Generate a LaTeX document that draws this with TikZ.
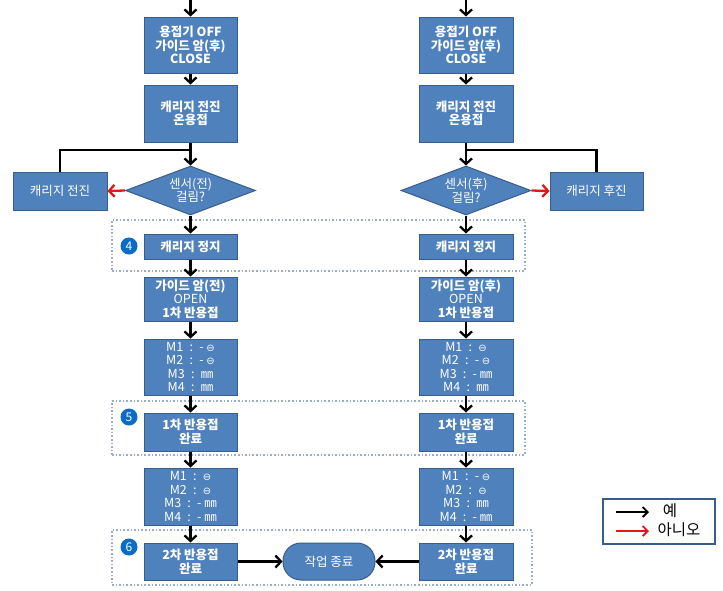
\documentclass[tikz,border=0pt]{standalone}
\usepackage{fontspec}
\setmainfont{Noto Sans CJK KR}
\newfontfamily\dejavu{DejaVu Sans}
\usetikzlibrary{arrows.meta,shapes.geometric}
\definecolor{boxblue}{HTML}{4F81BD}
\definecolor{boxedge}{HTML}{385D8A}
\definecolor{numblue}{HTML}{0A6CC4}
\definecolor{dotgray}{HTML}{9AAECB}
\definecolor{noRed}{HTML}{E01818}
\newcommand{\thz}{{\dejavu\fontsize{10}{10}\selectfont ⊖}}
\newcommand{\cl}{\enspace:\enspace}
\begin{document}
\begin{tikzpicture}[x=1pt,y=-1pt,
  box/.style={draw=boxedge, fill=boxblue, line width=1pt, text=white, align=center,
    inner sep=1pt, font=\bfseries\fontsize{12.5}{13.6}\selectfont},
  plainbox/.style={box, font=\fontsize{12.5}{13.6}\selectfont},
  mbox/.style={box, font=\fontsize{12.5}{13.4}\selectfont},
  dia/.style={diamond, draw=boxedge, fill=boxblue, line width=1pt, text=white, align=center,
    inner sep=0pt, aspect=2.65, minimum width=130pt, minimum height=49pt,
    font=\fontsize{12.5}{13.5}\selectfont},
  term/.style={rounded corners=18pt, draw=boxedge, fill=boxblue, line width=1pt, text=white,
    minimum width=92pt, minimum height=37pt, font=\fontsize{12.5}{13}\selectfont},
  grp/.style={draw=dotgray, dotted, line width=1.6pt, inner sep=0pt},
  num/.style={circle, fill=numblue, text=white, inner sep=0pt, minimum size=17pt,
    font=\fontsize{12}{12}\selectfont},
  flow/.style={-{Straight Barb[length=5.5pt,width=12pt]}, line width=2.3pt},
  noflow/.style={flow, noRed},
  lineonly/.style={line width=2.3pt}
]
\useasboundingbox (0,0) rectangle (723,590);

% group frames
\node[grp, minimum width=413pt, minimum height=51pt] (g4) at (318.5,245.5) {};
\node[grp, minimum width=413pt, minimum height=54pt] (g5) at (318.5,428) {};
\node[grp, minimum width=420pt, minimum height=55pt] (g6) at (322,557.5) {};
\node[num] (n4) at (129,246) {4};
\node[num] (n5) at (129,417) {5};
\node[num] (n6) at (129,547) {6};

% left column
\coordinate (lt) at (190.5,0);
\node[box, minimum width=93pt, minimum height=56pt] (l1) at (190.5,45) {용접기 OFF\\가이드 암(후)\\CLOSE};
\node[box, minimum width=93pt, minimum height=57pt] (l2) at (190.5,113.5) {캐리지 전진\\온용접};
\node[dia] (ld) at (190.5,190.5) {센서(전)\\걸림?};
\node[plainbox, minimum width=94pt, minimum height=38pt] (lb) at (60,191) {캐리지 전진};
\coordinate (lj) at (190.5,150);
\node[box, minimum width=93pt, minimum height=25pt] (l3) at (190.5,246.5) {캐리지 정지};
\node[box, minimum width=93pt, minimum height=44pt] (l4) at (190.5,299) {가이드 암(전)\\{\mdseries OPEN}\\1차 반용접};
\node[mbox, minimum width=93pt, minimum height=56pt] (l5) at (190.5,367) {M1\cl- \thz\\M2\cl- \thz\\M3\cl㎜\\M4\cl㎜};
\node[box, minimum width=93pt, minimum height=38pt] (l6) at (190.5,432) {1차 반용접\\완료};
\node[mbox, minimum width=93pt, minimum height=57pt] (l7) at (190.5,496.5) {M1\cl\thz\\M2\cl\thz\\M3\cl- ㎜\\M4\cl- ㎜};
\node[box, minimum width=93pt, minimum height=37pt] (l8) at (190.5,561.5) {2차 반용접\\완료};

% right column
\coordinate (rt) at (466,0);
\node[box, minimum width=94pt, minimum height=56pt] (r1) at (466,45) {용접기 OFF\\가이드 암(후)\\CLOSE};
\node[box, minimum width=94pt, minimum height=57pt] (r2) at (466,113.5) {캐리지 전진\\온용접};
\node[dia] (rd) at (466,190.5) {센서(후)\\걸림?};
\node[plainbox, minimum width=93pt, minimum height=38pt] (rb) at (596.5,191) {캐리지 후진};
\coordinate (rj) at (466,150);
\node[box, minimum width=94pt, minimum height=25pt] (r3) at (466,246.5) {캐리지 정지};
\node[box, minimum width=94pt, minimum height=44pt] (r4) at (466,299) {가이드 암(후)\\{\mdseries OPEN}\\1차 반용접};
\node[mbox, minimum width=94pt, minimum height=56pt] (r5) at (466,367) {M1\cl\thz\\M2\cl- \thz\\M3\cl- ㎜\\M4\cl㎜};
\node[box, minimum width=94pt, minimum height=38pt] (r6) at (466,432) {1차 반용접\\완료};
\node[mbox, minimum width=94pt, minimum height=57pt] (r7) at (466,496.5) {M1\cl- \thz\\M2\cl\thz\\M3\cl㎜\\M4\cl- ㎜};
\node[box, minimum width=94pt, minimum height=37pt] (r8) at (466,561.5) {2차 반용접\\완료};

\node[term] (end) at (329,561.5) {작업 종료};

% left connectors
\draw[flow] (lt) -- (l1);
\draw[flow] (l1) -- (l2);
\draw[flow] (l2) -- (ld);
\draw[noflow] (ld.west) -- (lb.east);
\draw[lineonly] (lb.north) |- (lj);
\draw[flow] (ld) -- (l3);
\draw[flow] (l3) -- (l4);
\draw[flow] (l4) -- (l5);
\draw[flow] (l5) -- (l6);
\draw[flow] (l6) -- (l7);
\draw[flow] (l7) -- (l8);
\draw[flow] (l8) -- (end);

% right connectors
\draw[flow] (rt) -- (r1);
\draw[flow] (r1) -- (r2);
\draw[flow] (r2) -- (rd);
\draw[noflow] (rd.east) -- (rb.west);
\draw[lineonly] (rb.north) |- (rj);
\draw[flow] (rd) -- (r3);
\draw[flow] (r3) -- (r4);
\draw[flow] (r4) -- (r5);
\draw[flow] (r5) -- (r6);
\draw[flow] (r6) -- (r7);
\draw[flow] (r7) -- (r8);
\draw[flow] (r8) -- (end);

% legend
\node[draw=boxedge, line width=1.5pt, fill=white, minimum width=112pt, minimum height=45pt] (leg) at (659,521.5) {};
\coordinate (ya) at (616,512);
\coordinate (yb) at (649,512);
\coordinate (na) at (616,531);
\coordinate (nb) at (649,531);
\draw[-{Straight Barb[length=5pt,width=10pt]}, line width=1.8pt] (ya) -- (yb);
\draw[-{Straight Barb[length=5pt,width=10pt]}, line width=1.8pt, noRed] (na) -- (nb);
\node[font=\fontsize{15.5}{15.5}\selectfont, inner sep=0pt] (yes) at (670,511) {예};
\node[font=\fontsize{15.5}{15.5}\selectfont, inner sep=0pt] (nono) at (679,530) {아니오};
\end{tikzpicture}
\end{document}
